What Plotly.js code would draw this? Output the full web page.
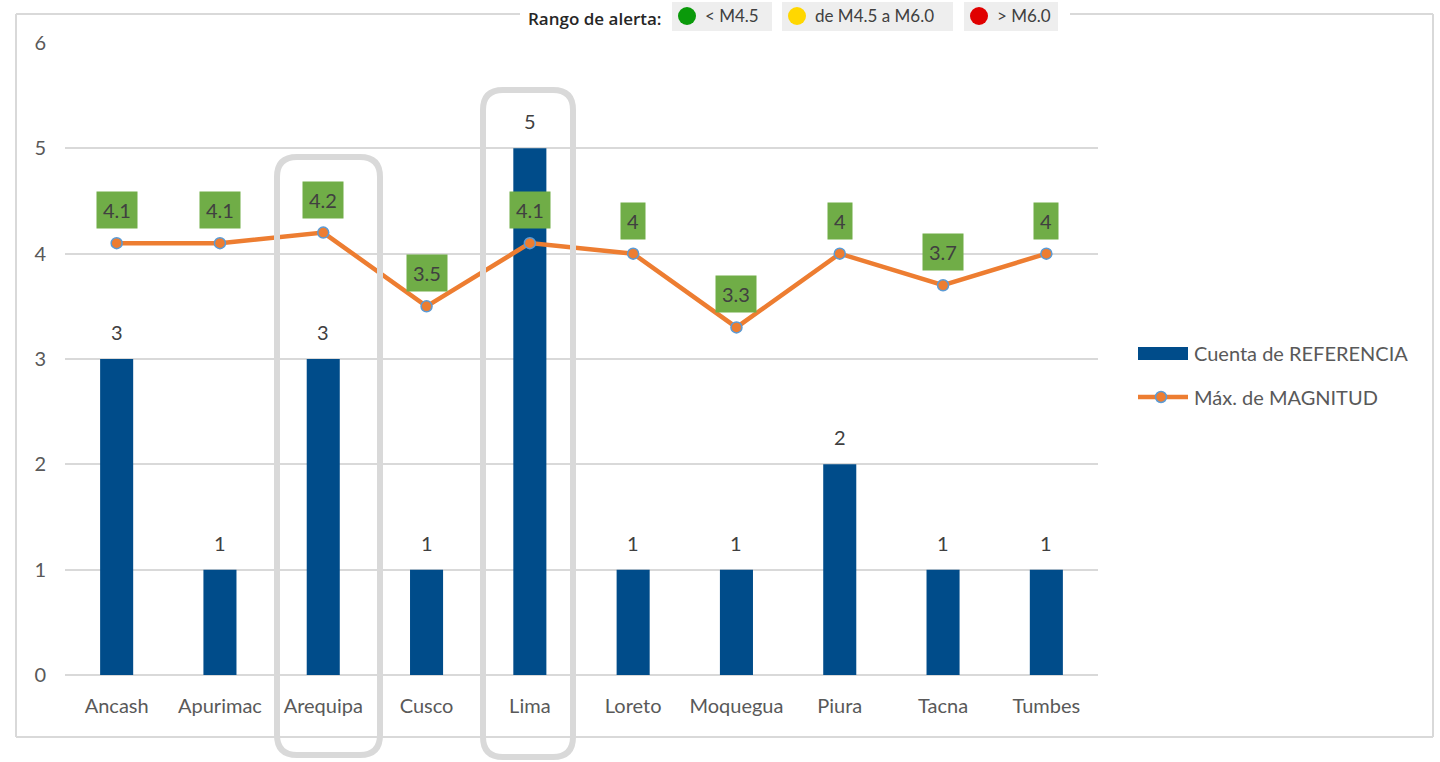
<!DOCTYPE html>
<html><head><meta charset="utf-8">
<script src="https://cdn.plot.ly/plotly-3.0.1.min.js"></script>
<style>html,body{margin:0;padding:0;background:#fff}#chart{width:1440px;height:762px}</style>
</head><body><div id="chart"></div>
<script>
const categories = ['Ancash','Apurimac','Arequipa','Cusco','Lima','Loreto','Moquegua','Piura','Tacna','Tumbes'];
const counts = [3,1,3,1,5,1,1,2,1,1];
const maxMag = [4.1,4.1,4.2,3.5,4.1,4,3.3,4,3.7,4];
const seriesNames = ['Cuenta de REFERENCIA','Máx. de MAGNITUD'];
const alertLabel = 'Rango de alerta:';
const alertRanges = ['&lt; M4.5','de M4.5 a M6.0','&gt; M6.0'];
const alertColors = ['#0A9A0A','#FFD700','#E00000'];
const highlighted = ['Arequipa','Lima'];

const W=1440,H=762,L=65,R=1098,T=43,B=675;
const px = x => (x-L)/(R-L);
const py = y => (B-y)/(B-T);
const FONT = 'Lato, "Open Sans", sans-serif';
const grey = '#D9D9D9';
const barColor = '#004C8A', lineColor = '#ED7D31', markerEdge = '#5B9BD5';

const traces = [
  {type:'bar', name:seriesNames[0], x:categories, y:counts, width:0.32,
   marker:{color:barColor}, hoverinfo:'x+y', showlegend:false},
  {type:'scatter', mode:'lines+markers', name:seriesNames[1], x:categories, y:maxMag,
   line:{color:lineColor,width:4.5},
   marker:{color:lineColor,size:11,line:{color:markerEdge,width:1.5}}, cliponaxis:false, showlegend:false}
];

const shapes = [];
function line(x0,y0,x1,y1,w,c,layer){shapes.push({type:'line',xref:'paper',yref:'paper',x0:px(x0),y0:py(y0),x1:px(x1),y1:py(y1),line:{color:c||grey,width:w},layer:layer||'below'});}
// outer frame with gap for top legend
line(16,14,16,737,2); line(16,737,1433,737,2); line(1433,14,1433,737,2);
line(16,14,520,14,2); line(1070,14,1433,14,2);

function roundRect(x0,y0,x1,y1,r){
  const X=v=>px(v), Y=v=>py(v);
  return `M${X(x0+r)},${Y(y0)} L${X(x1-r)},${Y(y0)} Q${X(x1)},${Y(y0)} ${X(x1)},${Y(y0+r)} L${X(x1)},${Y(y1-r)} Q${X(x1)},${Y(y1)} ${X(x1-r)},${Y(y1)} L${X(x0+r)},${Y(y1)} Q${X(x0)},${Y(y1)} ${X(x0)},${Y(y1-r)} L${X(x0)},${Y(y0+r)} Q${X(x0)},${Y(y0)} ${X(x0+r)},${Y(y0)} Z`;
}
const boxGeom = {Arequipa:[277,157,380,755], Lima:[483,90,573,757]};
highlighted.forEach(c=>{
  const g=boxGeom[c];
  shapes.push({type:'path',xref:'paper',yref:'paper',path:roundRect(g[0],g[1],g[2],g[3],20),line:{color:grey,width:6},layer:'above'});
});

const annotations = [];
// bar value labels
categories.forEach((c,i)=>{
  annotations.push({x:c,y:counts[i],xref:'x',yref:'y',text:String(counts[i]),showarrow:false,
    yanchor:'middle',yshift:27,font:{size:20,color:'#404040',family:FONT}});
});
// line value labels
categories.forEach((c,i)=>{
  annotations.push({x:c,y:maxMag[i],xref:'x',yref:'y',text:String(maxMag[i]),showarrow:false,
    yshift:33,bgcolor:'#70AD47',borderpad:6,font:{size:20,color:'#404040',family:FONT}});
});
// top alert legend
annotations.push({xref:'paper',yref:'paper',x:px(526),y:py(18),xanchor:'left',yanchor:'middle',showarrow:false,
  text:alertLabel,font:{size:17,color:'#262626',family:'"Open Sans", sans-serif',weight:600}});
const boxes=[[672,772],[782,953],[964,1058]];
boxes.forEach((b,i)=>{
  shapes.push({type:'rect',xref:'paper',yref:'paper',x0:px(b[0]),x1:px(b[1]),y0:py(2),y1:py(31),fillcolor:'#EEEEEE',line:{width:0},layer:'above'});
  const cx=b[0]+15, cy=16, r=9;
  shapes.push({type:'circle',xref:'paper',yref:'paper',x0:px(cx-r),x1:px(cx+r),y0:py(cy+r),y1:py(cy-r),fillcolor:alertColors[i],line:{width:0},layer:'above'});
  annotations.push({xref:'paper',yref:'paper',x:px(b[0]+31),y:py(16),xanchor:'left',yanchor:'middle',showarrow:false,
    text:alertRanges[i],font:{size:17,color:'#404040',family:FONT}});
});
// series legend (right)
shapes.push({type:'rect',xref:'paper',yref:'paper',x0:px(1138),x1:px(1188),y0:py(360),y1:py(347),fillcolor:barColor,line:{width:0},layer:'above'});
line(1138,397,1188,397,4.5,lineColor,'above');
shapes.push({type:'circle',xref:'paper',yref:'paper',x0:px(1155.5),x1:px(1166.5),y0:py(402.5),y1:py(391.5),fillcolor:lineColor,line:{color:markerEdge,width:1.5},layer:'above'});
annotations.push({xref:'paper',yref:'paper',x:px(1192),y:py(353),xanchor:'left',yanchor:'middle',showarrow:false,
  text:seriesNames[0],font:{size:20,color:'#595959',family:FONT}});
annotations.push({xref:'paper',yref:'paper',x:px(1192),y:py(397),xanchor:'left',yanchor:'middle',showarrow:false,
  text:seriesNames[1],font:{size:20,color:'#595959',family:FONT}});

const layout = {
  width:W,height:H,margin:{l:L,r:W-R,t:T,b:H-B},
  paper_bgcolor:'#fff',plot_bgcolor:'#fff',
  font:{family:FONT,color:'#595959',size:20},
  xaxis:{type:'category',range:[-0.5,9.5],showgrid:false,zeroline:false,showline:false,ticks:'',
    tickfont:{size:20,color:'#595959'},ticklabelstandoff:17,fixedrange:true},
  yaxis:{range:[0,6],dtick:1,showgrid:true,gridcolor:grey,gridwidth:2,zeroline:true,zerolinecolor:grey,zerolinewidth:2,
    showline:false,ticks:'',tickfont:{size:20,color:'#595959'},ticklabelstandoff:18,fixedrange:true},
  showlegend:false,
  shapes:shapes, annotations:annotations
};
Plotly.newPlot('chart',traces,layout,{displayModeBar:false,staticPlot:true});
</script></body></html>
